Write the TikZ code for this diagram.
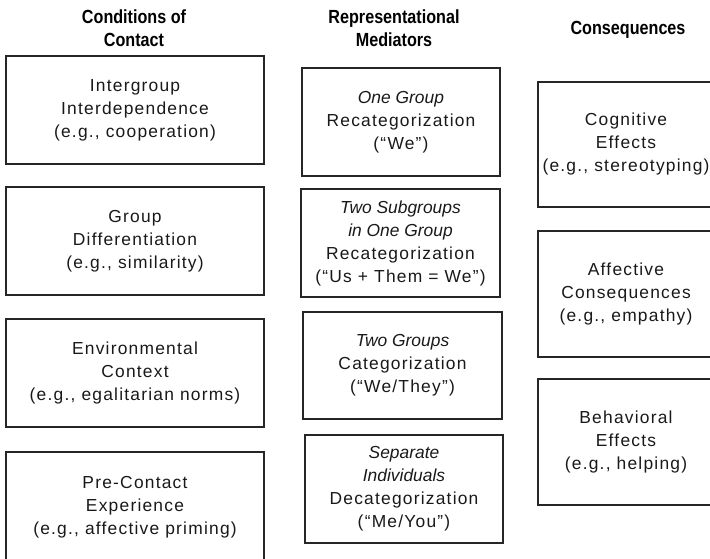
\documentclass[tikz,border=0pt]{standalone}
\usepackage{fontspec}
\setmainfont{Liberation Sans}
\newfontfamily\bodyfam[LetterSpace=7]{Liberation Sans}
\newfontfamily\itfam{Liberation Sans}
\newfontfamily\headfam[FakeStretch=0.85]{Liberation Sans}
\newcommand{\mi}[1]{{\itfam\itshape #1}}
\begin{document}
\begin{tikzpicture}[x=1pt,y=-1pt,
  box/.style={draw=black!85, line width=1.1pt, inner sep=0pt, outer sep=0pt,
    align=center, text=black!90,
    font=\bodyfam\fontsize{17.4}{23}\selectfont},
  head/.style={inner sep=0pt, align=center, text=black,
    font=\headfam\bfseries\fontsize{19}{23.3}\selectfont}]
\useasboundingbox (0,0) rectangle (710,559);
% headers
\node[head] (h1) at (134,28) {Conditions of\\Contact};
\node[head] (h2) at (394,28) {Representational\\Mediators};
\node[head, anchor=base] (h3) at (628,35) {Consequences};
% conditions of contact
\node[box, minimum width=258, minimum height=108] (c1) at (135,110)
  {Intergroup\\Interdependence\\(e.g., cooperation)};
\node[box, minimum width=258, minimum height=108] (c2) at (135,241)
  {Group\\Differentiation\\(e.g., similarity)};
\node[box, minimum width=258, minimum height=108] (c3) at (135,373)
  {Environmental\\Context\\(e.g., egalitarian norms)};
\node[box, minimum width=258, minimum height=110] (c4) at (135,507)
  {Pre-Contact\\Experience\\(e.g., affective priming)};
% representational mediators
\node[box, minimum width=198, minimum height=108] (m1) at (401,122)
  {\mi{One Group}\\Recategorization\\(“We”)};
\node[box, minimum width=199, minimum height=108] (m2) at (400.5,243)
  {\mi{Two Subgroups}\\\mi{in One Group}\\Recategorization\\(“Us + Them = We”)};
\node[box, minimum width=199, minimum height=107] (m3) at (402.5,365.5)
  {\mi{Two Groups}\\Categorization\\(“We/They”)};
\node[box, minimum width=198, minimum height=108] (m4) at (404,489)
  {\mi{Separate}\\\mi{Individuals}\\Decategorization\\(“Me/You”)};
% consequences
\node[box, minimum width=176, minimum height=125] (q1) at (626,144.5)
  {Cognitive\\Effects\\(e.g., stereotyping)};
\node[box, minimum width=176, minimum height=126] (q2) at (626,294)
  {Affective\\Consequences\\(e.g., empathy)};
\node[box, minimum width=176, minimum height=126] (q3) at (626,442)
  {Behavioral\\Effects\\(e.g., helping)};
\end{tikzpicture}
\end{document}
